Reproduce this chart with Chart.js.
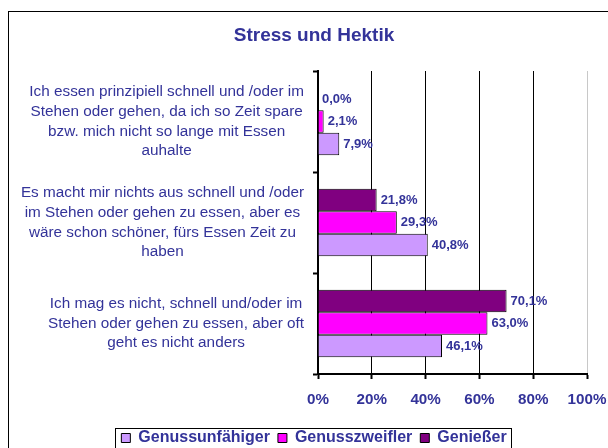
<!DOCTYPE html>
<html lang="de">
<head>
<meta charset="utf-8">
<title>Stress und Hektik</title>
<script src="https://cdn.jsdelivr.net/npm/chart.js@4/dist/chart.umd.min.js"></script>
<style>
  html, body { margin: 0; padding: 0; background: #fff; overflow: hidden; }
  canvas { display: block; }
</style>
</head>
<body>
<canvas id="chart" width="608" height="470"></canvas>
<script>
const TITLE = 'Stress und Hektik';
const CATEGORIES = [
    ['Ich essen prinzipiell schnell und /oder im', 'Stehen oder gehen, da ich so Zeit spare', 'bzw. mich nicht so lange mit Essen', 'auhalte'],
    ['Es macht mir nichts aus schnell und /oder', 'im Stehen oder gehen zu essen, aber es', 'wäre schon schöner, fürs Essen Zeit zu', 'haben'],
    ['Ich mag es nicht, schnell und/oder im', 'Stehen oder gehen zu essen, aber oft', 'geht es nicht anders']
];
const GENIESSER = [0.0, 21.8, 70.1];
const GENUSSZWEIFLER = [2.1, 29.3, 63.0];
const GENUSSUNFAEHIGER = [7.9, 40.8, 46.1];
const X_TICKS = [0, 20, 40, 60, 80, 100];

const INK = '#333399';
const FONT = "'Liberation Sans', Arial, sans-serif";

const pct = v => v.toFixed(1).replace('.', ',') + '%';

// outer frame of the whole chart object
const framePlugin = {
    id: 'frame',
    beforeDraw(chart) {
        const ctx = chart.ctx;
        ctx.save();
        ctx.strokeStyle = '#000';
        ctx.lineWidth = 1;
        ctx.strokeRect(8.5, 11.5, 900, 900);
        ctx.restore();
    }
};

// category labels: blocks right-aligned to the axis, lines centred inside each block
const categoryLabels = {
    id: 'categoryLabels',
    afterDraw(chart) {
        const ctx = chart.ctx;
        const y = chart.scales.y;
        const right = chart.chartArea.left - 14;
        const lh = 19.7;
        ctx.save();
        ctx.font = `15.3px ${FONT}`;
        ctx.fillStyle = INK;
        ctx.textAlign = 'center';
        ctx.textBaseline = 'middle';
        chart.data.labels.forEach((lines, i) => {
            const w = Math.max(...lines.map(l => ctx.measureText(l).width));
            const cx = right - w / 2;
            const cy = y.getPixelForValue(i);
            lines.forEach((l, j) => ctx.fillText(l, cx, cy + (j - (lines.length - 1) / 2) * lh));
        });
        ctx.restore();
    }
};

// value labels at the end of each bar
const valueLabels = {
    id: 'valueLabels',
    afterDatasetsDraw(chart) {
        const ctx = chart.ctx;
        ctx.save();
        ctx.font = `bold 13px ${FONT}`;
        ctx.fillStyle = INK;
        ctx.textAlign = 'left';
        ctx.textBaseline = 'middle';
        chart.data.datasets.forEach((ds, i) => {
            chart.getDatasetMeta(i).data.forEach((bar, j) => {
                ctx.fillText(pct(ds.data[j]), bar.x + 4, bar.y);
            });
        });
        ctx.restore();
    }
};

// box round the legend
const legendBox = {
    id: 'legendBox',
    afterDraw(chart) {
        const lg = chart.legend;
        if (!lg || !lg.legendHitBoxes.length) return;
        const hb = lg.legendHitBoxes;
        const left = Math.min(...hb.map(h => h.left)) - 6;
        const right = Math.max(...hb.map(h => h.left + h.width)) + 5;
        const top = hb[0].top - 2;
        const ctx = chart.ctx;
        ctx.save();
        ctx.strokeStyle = '#000';
        ctx.lineWidth = 1;
        ctx.strokeRect(Math.round(left) + 0.5, Math.round(top) + 0.5, Math.round(right - left), 40);
        ctx.restore();
    }
};

new Chart(document.getElementById('chart'), {
    type: 'bar',
    data: {
        labels: CATEGORIES,
        datasets: [
            { label: 'Genießer', data: GENIESSER, backgroundColor: '#800080' },
            { label: 'Genusszweifler', data: GENUSSZWEIFLER, backgroundColor: '#FF00FF' },
            { label: 'Genussunfähiger', data: GENUSSUNFAEHIGER, backgroundColor: '#CC99FF' }
        ].map(d => ({ ...d, borderColor: '#000', borderWidth: 1, borderSkipped: 'start',
                      categoryPercentage: 0.668, barPercentage: 1 }))
    },
    options: {
        indexAxis: 'y',
        responsive: false,
        animation: false,
        layout: { padding: { left: 41, right: 21, top: 0, bottom: 14 } },
        plugins: {
            title: {
                display: true, text: TITLE, color: INK,
                font: { family: FONT, size: 19, weight: 'bold', lineHeight: 1.2 },
                padding: { top: 24.6, bottom: 23.6 }
            },
            legend: {
                position: 'bottom', reverse: true,
                labels: {
                    color: INK, boxWidth: 9, boxHeight: 9, padding: 8,
                    font: { family: FONT, size: 16, weight: 'bold' }
                }
            },
            tooltip: { enabled: false }
        },
        scales: {
            x: {
                min: 0, max: 100,
                afterBuildTicks: s => { s.ticks = X_TICKS.map(v => ({ value: v })); },
                afterFit: s => { s.height = 48; s.paddingLeft = 0; s.paddingRight = 0; },
                border: { color: '#000', width: 2 },
                grid: {
                    color: c => c.tick && c.tick.value === 100 ? '#c8c8c8' : '#000',
                    lineWidth: 1, tickColor: '#000', tickWidth: 2, tickLength: 5
                },
                ticks: {
                    color: INK, padding: 12,
                    font: { family: FONT, size: 15.2, weight: 'bold' },
                    callback: v => v + '%'
                }
            },
            y: {
                afterFit: s => { s.width = 277; },
                border: { color: '#000', width: 2 },
                grid: { drawOnChartArea: false, color: '#000', tickWidth: 2, tickLength: 5 },
                ticks: { display: false }
            }
        }
    },
    plugins: [framePlugin, categoryLabels, valueLabels, legendBox]
});
</script>
</body>
</html>
